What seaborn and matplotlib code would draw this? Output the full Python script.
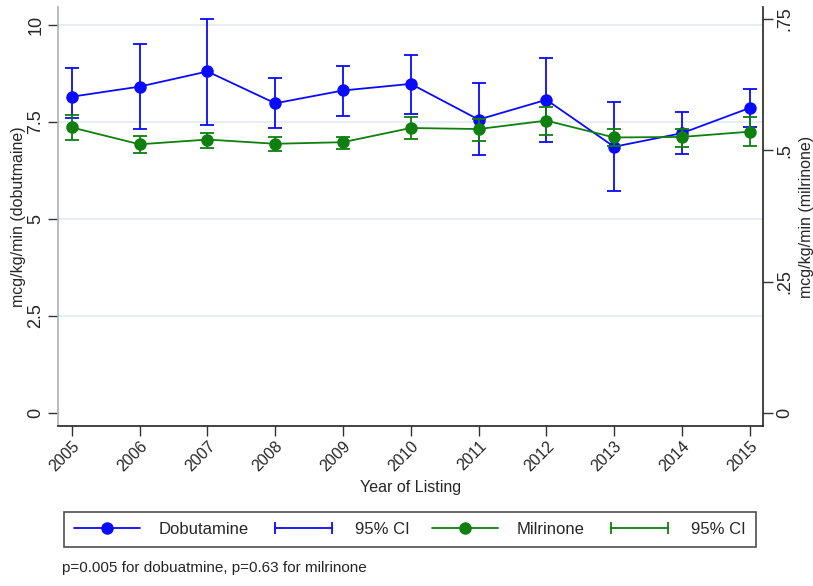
import matplotlib
matplotlib.use("Agg")
import matplotlib.pyplot as plt
from matplotlib.lines import Line2D
from matplotlib.legend_handler import HandlerLine2D
import seaborn as sns
import pandas as pd

# Yearly mean infusion doses with 95% confidence limits
years = [2005, 2006, 2007, 2008, 2009, 2010, 2011, 2012, 2013, 2014, 2015]
dob_mean = [8.15, 8.41, 8.80, 7.98, 8.31, 8.48, 7.56, 8.07, 6.86, 7.21, 7.86]
dob_lo = [7.60, 7.32, 7.42, 7.35, 7.64, 7.71, 6.64, 6.97, 5.72, 6.68, 7.38]
dob_hi = [8.88, 9.51, 10.15, 8.64, 8.95, 9.22, 8.50, 9.15, 8.01, 7.76, 8.36]
mil_mean = [0.543, 0.511, 0.520, 0.512, 0.515, 0.542, 0.540, 0.556, 0.524, 0.525, 0.535]
mil_lo = [0.519, 0.495, 0.504, 0.499, 0.503, 0.522, 0.517, 0.529, 0.508, 0.506, 0.508]
mil_hi = [0.567, 0.527, 0.533, 0.524, 0.525, 0.562, 0.560, 0.581, 0.540, 0.541, 0.562]

left_ticks = [0, 2.5, 5, 7.5, 10]
left_labels = ["0", "2.5", "5", "7.5", "10"]
right_ticks = [0, 0.25, 0.5, 0.75]
right_labels = ["0", ".25", ".5", ".75"]

BLUE = "#0a0aff"
GREEN = "#0f7f0f"

sns.set_theme(style="white")
plt.rcParams["font.family"] = ["Liberation Sans", "DejaVu Sans"]

dob = pd.DataFrame({"year": years, "mean": dob_mean, "lo": dob_lo, "hi": dob_hi})
mil = pd.DataFrame({"year": years, "mean": mil_mean, "lo": mil_lo, "hi": mil_hi})

fig = plt.figure(figsize=(8.13, 5.86), dpi=100)
ax = fig.add_axes([0.0717, 0.273, 0.8663, 0.715])

# Dobutamine on the left axis
ax.errorbar(dob["year"], dob["mean"], yerr=[dob["mean"] - dob["lo"], dob["hi"] - dob["mean"]],
            fmt="none", ecolor=BLUE, elinewidth=1.3, capsize=5, capthick=1.3, zorder=2)
sns.lineplot(data=dob, x="year", y="mean", ax=ax, color=BLUE, marker="o", markersize=9,
             markeredgewidth=0, linewidth=1.3, zorder=3)

ax.set_xlim(2004.80, 2015.19)
ax.set_ylim(-0.335, 10.46)
ax.set_yticks(left_ticks)
ax.set_yticklabels(left_labels, rotation=90, va="center", fontsize=13)
ax.set_xticks(years)
ax.set_xticklabels([str(y) for y in years], rotation=45, ha="right", rotation_mode="anchor",
                   fontsize=11.5)
for v in left_ticks[1:]:
    ax.axhline(v, color="#e3edf4", linewidth=1.3, zorder=0)
ax.set_ylabel("mcg/kg/min (dobutmaine)", fontsize=11.5, labelpad=1)
ax.set_xlabel("Year of Listing", fontsize=11.5, labelpad=4)
ax.tick_params(axis="y", length=7, width=1, color="#333333", pad=3, left=True)
ax.tick_params(axis="x", length=7, width=1, color="#333333", pad=2, bottom=True)

# Milrinone on the right axis
ax2 = ax.twinx()
ax2.errorbar(mil["year"], mil["mean"], yerr=[mil["mean"] - mil["lo"], mil["hi"] - mil["mean"]],
             fmt="none", ecolor=GREEN, elinewidth=1.3, capsize=5, capthick=1.3, zorder=2)
sns.lineplot(data=mil, x="year", y="mean", ax=ax2, color=GREEN, marker="o", markersize=9,
             markeredgewidth=0, linewidth=1.3, zorder=3)
ax2.set_ylim(-0.0247, 0.772)
ax2.set_yticks(right_ticks)
ax2.set_yticklabels(right_labels, rotation=90, va="center", fontsize=13)
ax2.set_ylabel("mcg/kg/min (milrinone)", fontsize=11.5, labelpad=4)
ax2.set_xlabel("")
ax2.tick_params(axis="y", length=7, width=1, color="#333333", pad=3, right=True)

for a in (ax, ax2):
    a.spines["top"].set_visible(False)
ax.spines["left"].set_color("#b0b0b0")
ax.spines["bottom"].set_color("#222222")
ax.spines["right"].set_visible(False)
ax2.spines["left"].set_visible(False)
ax2.spines["bottom"].set_visible(False)
ax2.spines["right"].set_color("#222222")
for s in ("left", "bottom"):
    ax.spines[s].set_linewidth(1.2)
ax2.spines["right"].set_linewidth(1.2)

# Legend: mean lines and CI bars
h_dob = Line2D([], [], color=BLUE, marker="o", markersize=9, markeredgewidth=0, linewidth=1.3)
h_dci = Line2D([], [], color=BLUE, marker="|", markersize=9, markeredgewidth=1.3, linewidth=1.3)
h_mil = Line2D([], [], color=GREEN, marker="o", markersize=9, markeredgewidth=0, linewidth=1.3)
h_mci = Line2D([], [], color=GREEN, marker="|", markersize=9, markeredgewidth=1.3, linewidth=1.3)
leg = fig.legend([h_dob, h_dci, h_mil, h_mci], ["Dobutamine", "95% CI", "Milrinone", "95% CI"],
                 loc="center", bbox_to_anchor=(0.504, 0.097), ncol=4, fontsize=12,
                 handlelength=4.0, handletextpad=1.1, columnspacing=1.3, borderpad=0.6,
                 fancybox=False, frameon=True,
                 handler_map={h_dob: HandlerLine2D(numpoints=1), h_mil: HandlerLine2D(numpoints=1),
                              h_dci: HandlerLine2D(numpoints=2), h_mci: HandlerLine2D(numpoints=2)})
frame = leg.get_frame()
frame.set_edgecolor("#222222")
frame.set_linewidth(1.2)

fig.text(0.076, 0.030, "p=0.005 for dobuatmine, p=0.63 for milrinone", fontsize=11,
         ha="left", va="center")

fig.savefig("out.png", dpi=100)
